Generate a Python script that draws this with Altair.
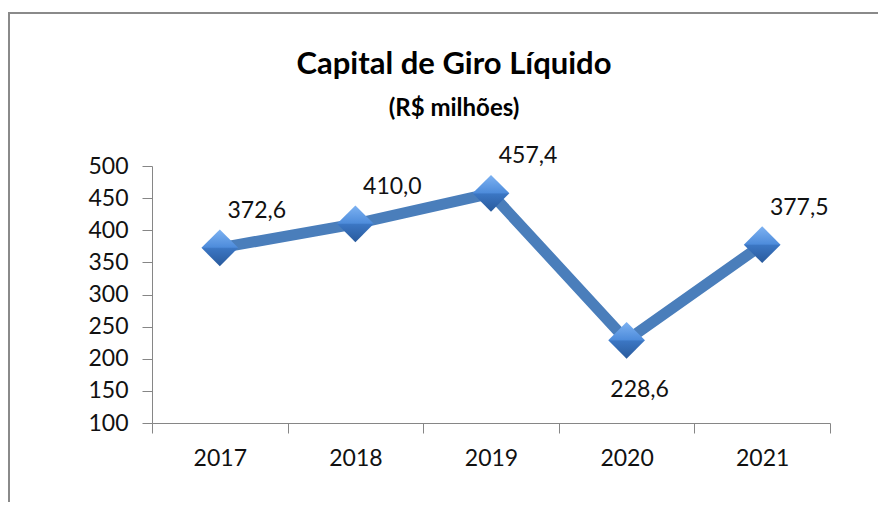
import altair as alt
import pandas as pd

anos = ["2017", "2018", "2019", "2020", "2021"]
valores = [372.6, 410.0, 457.4, 228.6, 377.5]
posicao = ["acima", "acima", "acima", "abaixo", "acima"]
y_ticks = [100, 150, 200, 250, 300, 350, 400, 450, 500]

df = pd.DataFrame({"ano": anos, "valor": valores, "posicao": posicao})
df["rotulo"] = [f"{v:.1f}".replace(".", ",") for v in valores]

FONT = "Lato"
AXIS_GRAY = "#868686"
LINE_BLUE = "#4A7EBB"

x_enc = alt.X(
    "ano:N", title=None, sort=anos,
    scale=alt.Scale(type="band", paddingInner=0, paddingOuter=0),
    axis=alt.Axis(tickBand="extent", labelAngle=0, labelFont=FONT, labelFontSize=23,
                  labelColor="#111111", domainColor=AXIS_GRAY, tickColor=AXIS_GRAY,
                  tickSize=10, labelPadding=14, grid=False),
)
y_enc = alt.Y(
    "valor:Q", title=None,
    scale=alt.Scale(domain=[100, 500], nice=False, zero=False),
    axis=alt.Axis(values=y_ticks, labelFont=FONT, labelFontSize=23, labelColor="#111111",
                  domainColor=AXIS_GRAY, tickColor=AXIS_GRAY, tickSize=10,
                  labelPadding=14, grid=False),
)

base = alt.Chart(df)

frame = base.mark_rect(fill="transparent", stroke="#8a8a8a", strokeWidth=2).encode(
    x=alt.value(-143), x2=alt.value(900), y=alt.value(-153), y2=alt.value(700)
).transform_filter(alt.datum.ano == "2017")

line = base.mark_line(color=LINE_BLUE, strokeWidth=11).encode(x=x_enc, y=y_enc)

grad = alt.LinearGradient(
    gradient="linear",
    stops=[
        alt.GradientStop(color="#7DB2F2", offset=0),
        alt.GradientStop(color="#4E8CDB", offset=0.48),
        alt.GradientStop(color="#3B76C3", offset=0.52),
        alt.GradientStop(color="#295A9C", offset=1),
    ],
    x1=0, x2=0, y1=0, y2=1,
)
points = base.mark_point(shape="diamond", size=1350, filled=True, fill=grad,
                         opacity=1, strokeWidth=0).encode(x=x_enc, y=y_enc)

labels_up = base.mark_text(font=FONT, fontSize=23, color="#111111", dx=37, dy=-37).encode(
    x=x_enc, y=y_enc, text="rotulo:N"
).transform_filter(alt.datum.posicao == "acima")
labels_down = base.mark_text(font=FONT, fontSize=23, color="#111111", dx=13, dy=50).encode(
    x=x_enc, y=y_enc, text="rotulo:N"
).transform_filter(alt.datum.posicao == "abaixo")

chart = alt.layer(frame, line, points, labels_up, labels_down).properties(
    width=678, height=257,
    autosize=alt.AutoSizeParams(type="none"),
    padding={"left": 144, "top": 158, "right": 48, "bottom": 79},
    title=alt.TitleParams(
        text="Capital de Giro Líquido", subtitle="(R$ milhões)",
        font=FONT, fontSize=31, fontWeight="bold", color="#000000",
        subtitleFont=FONT, subtitleFontSize=24, subtitleFontWeight="bold",
        subtitleColor="#000000", subtitlePadding=16,
        anchor="middle", dx=-37, offset=-110,
    ),
).configure_view(strokeWidth=0)

chart.save("out.html", embed_options={"renderer": "svg", "actions": False})
